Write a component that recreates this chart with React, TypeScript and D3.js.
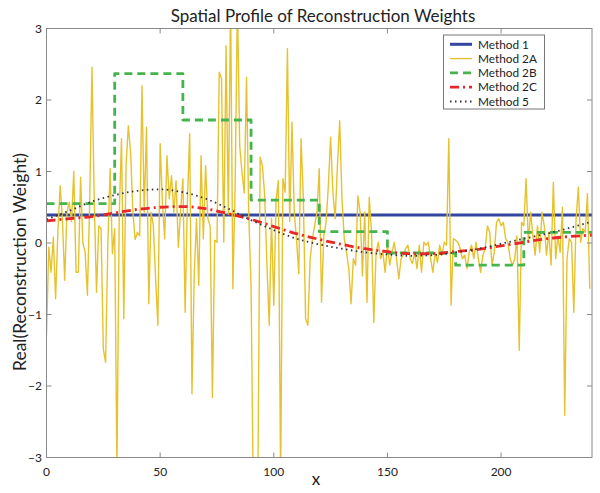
import React, { useEffect, useRef } from 'react';
import * as d3 from 'd3';

// axis ticks
const xTicks = [0, 50, 100, 150, 200];
const yTicks = [-3, -2, -1, 0, 1, 2, 3];

// Method 1: flat weight
const method1X = [0, 240];
const method1 = [0.39, 0.39];

// Method 2A: one value per x = 0..239
const method2A = [
  -1.29, -0.06, -0.41, 0.08, -0.78, 0.15, 0.8, 0.34, -0.52, 0.43,
  0.57, 0.3, 1.0, -0.41, -0.41, 0.92, 0.0, -0.13, -0.73, 0.57,
  2.46, 0.6, -0.69, 0.24, 0.2, -1.48, -1.67, 0.0, 1.04, -0.15,
  0.2, -3.2, 0.4, 1.46, -1.06, 1.08, 1.64, 1.27, 0.43, 0.05,
  0.15, 0.1, 2.2, 0.43, 1.62, -0.85, 0.43, 0.25, -0.5, -1.15,
  1.39, 0.57, 0.06, 1.22, 0.62, 0.94, 0.43, 0.87, -0.06, 0.45,
  0.9, -0.97, 0.6, 1.53, -2.11, -0.45, 0.34, -0.59, 1.22, 0.06,
  1.08, 0.34, 0.24, -2.16, 0.04, 0.01, 2.39, 2.3, 0.01, 2.76,
  0.4, 3.4, -0.64, 0.8, 3.4, 1.36, 0.99, 0.7, 2.32, 0.38,
  -0.6, -3.6, -4.0, -3.4, 1.2, 1.08, 0.66, -0.31, -1.15, 0.34,
  -0.87, 0.6, 0.87, -3.3, 0.9, 0.71, 2.72, 0.3, 1.69, 0.43,
  0.05, -0.43, 1.46, 0.62, -1.06, -1.15, -0.22, 0.06, 0.25, 0.43,
  1.04, -0.83, 0.1, 0.29, 0.8, 1.48, 0.71, 0.34, 1.08, 1.71,
  0.62, 0.06, -0.13, -0.36, -0.85, -0.22, -0.31, 0.66, 0.43, -0.46,
  0.43, -0.83, 0.64, 0.15, -1.11, -0.13, 0.01, -0.22, -0.13, -0.41,
  -0.03, -0.31, -0.13, 0.01, -0.22, -0.5, -0.22, -0.17, -0.08, -0.03,
  -0.22, -0.29, -0.13, -0.36, -0.03, -0.41, 0.01, -0.03, 0.01, -0.22,
  -0.41, -0.13, -0.27, -0.03, -0.17, 0.01, -0.03, 1.46, -0.87, 0.06,
  0.04, 0.01, -0.08, -0.22, -0.17, -0.36, -0.13, -0.03, -0.22, 0.01,
  -0.22, -0.41, -0.17, -0.08, 0.24, 0.15, -0.31, -0.13, 0.29, 0.34,
  0.24, 0.29, 0.06, 0.01, -0.22, -0.31, -0.22, 0.1, -1.5, 0.29,
  0.24, 0.9, 0.01, 0.43, 0.1, -0.17, 0.24, -0.13, 0.43, 0.24,
  -0.17, 0.15, -0.31, 0.85, -0.22, 0.1, -0.13, 0.5, -2.41, -0.22,
  0.06, 0.01, -0.97, 0.34, 0.78, 0.01, 0.2, 0.15, 0.69, -0.64,
];

// Method 2B: piecewise constant
const method2BEdges = [0, 30, 60, 90, 120, 150, 180, 210, 240];
const method2B = [0.55, 2.37, 1.72, 0.6, 0.16, -0.14, -0.31, 0.15];

// Method 2C and Method 5: smooth profiles sampled every 10
const smoothX = [0, 10, 20, 30, 40, 50, 60, 70, 80, 90, 100, 110, 120, 130, 140, 150, 160, 170, 180, 190, 200, 210, 220, 230, 240];
const method2C = [0.31, 0.34, 0.37, 0.42, 0.47, 0.5, 0.51, 0.48, 0.41, 0.33, 0.23, 0.13, 0.05, -0.02, -0.08, -0.12, -0.15, -0.15, -0.12, -0.09, -0.04, 0.01, 0.06, 0.09, 0.11];
const method5 = [0.33, 0.45, 0.58, 0.67, 0.73, 0.75, 0.71, 0.62, 0.48, 0.32, 0.18, 0.06, -0.02, -0.08, -0.13, -0.16, -0.18, -0.17, -0.13, -0.08, -0.01, 0.06, 0.13, 0.21, 0.3];

const legendNames = ['Method 1', 'Method 2A', 'Method 2B', 'Method 2C', 'Method 5'];

const styles = [
  { color: '#3346a0', width: 3, dash: null },
  { color: '#e6c22e', width: 1.4, dash: null },
  { color: '#45b44c', width: 2.8, dash: '8,5' },
  { color: '#e8272b', width: 2.8, dash: '9,4,2,4' },
  { color: '#333333', width: 1.8, dash: '1.5,3.5' },
];

const FONT = 'Lato, "Open Sans", sans-serif';

function App() {
  const svgRef = useRef(null);

  useEffect(() => {
    document.body.style.margin = '0';
    const svg = d3.select(svgRef.current);
    svg.selectAll('*').remove();

    const left = 46.5, right = 592, top = 28.5, bottom = 457.5;
    const x = d3.scaleLinear().domain([0, 240]).range([left, right]);
    const y = d3.scaleLinear().domain([-3, 3]).range([bottom, top]);

    svg.append('rect').attr('width', 600).attr('height', 493).attr('fill', '#fff');

    svg.append('defs').append('clipPath').attr('id', 'plotClip')
      .append('rect').attr('x', left).attr('y', top)
      .attr('width', right - left).attr('height', bottom - top);

    const plot = svg.append('g').attr('clip-path', 'url(#plotClip)');
    const line = d3.line().x(d => x(d[0])).y(d => y(d[1]));

    const series = [
      { pts: method1X.map((v, i) => [v, method1[i]]), curve: d3.curveLinear },
      { pts: method2A.map((v, i) => [i, v]), curve: d3.curveLinear },
      { pts: method2BEdges.map((e, i) => [e, method2B[Math.min(i, method2B.length - 1)]]), curve: d3.curveStepAfter },
      { pts: smoothX.map((v, i) => [v, method2C[i]]), curve: d3.curveMonotoneX },
      { pts: smoothX.map((v, i) => [v, method5[i]]), curve: d3.curveMonotoneX },
    ];

    series.forEach((s, i) => {
      const st = styles[i];
      plot.append('path')
        .datum(s.pts)
        .attr('fill', 'none')
        .attr('stroke', st.color)
        .attr('stroke-width', st.width)
        .attr('stroke-dasharray', st.dash)
        .attr('stroke-linejoin', 'round')
        .attr('d', line.curve(s.curve));
    });

    // frame
    svg.append('rect')
      .attr('x', left).attr('y', top)
      .attr('width', right - left).attr('height', bottom - top)
      .attr('fill', 'none').attr('stroke', '#8a8a8a').attr('stroke-width', 1);

    const tickLen = 5;
    const axes = svg.append('g').attr('stroke', '#8a8a8a').attr('stroke-width', 1);
    xTicks.forEach(t => {
      axes.append('line').attr('x1', x(t)).attr('x2', x(t)).attr('y1', bottom).attr('y2', bottom - tickLen);
      axes.append('line').attr('x1', x(t)).attr('x2', x(t)).attr('y1', top).attr('y2', top + tickLen);
    });
    yTicks.forEach(t => {
      axes.append('line').attr('x1', left).attr('x2', left + tickLen).attr('y1', y(t)).attr('y2', y(t));
      axes.append('line').attr('x1', right).attr('x2', right - tickLen).attr('y1', y(t)).attr('y2', y(t));
    });

    const fmt = d3.format('d');
    svg.append('g').selectAll('text').data(xTicks).join('text')
      .attr('x', d => x(d)).attr('y', 476)
      .attr('text-anchor', 'middle')
      .attr('font-family', FONT).attr('font-size', 12).attr('fill', '#222')
      .text(d => fmt(d));
    svg.append('g').selectAll('text').data(yTicks).join('text')
      .attr('x', 42).attr('y', d => y(d) + 4)
      .attr('text-anchor', 'end')
      .attr('font-family', FONT).attr('font-size', 12).attr('fill', '#222')
      .text(d => fmt(d));

    svg.append('text')
      .attr('x', 323).attr('y', 22)
      .attr('text-anchor', 'middle')
      .attr('font-family', FONT).attr('font-size', 17).attr('fill', '#222')
      .text('Spatial Profile of Reconstruction Weights');

    svg.append('text')
      .attr('x', 316).attr('y', 485)
      .attr('text-anchor', 'middle')
      .attr('font-family', FONT).attr('font-size', 17).attr('fill', '#222')
      .text('x');

    svg.append('text')
      .attr('transform', 'translate(26,262) rotate(-90)')
      .attr('text-anchor', 'middle')
      .attr('font-family', FONT).attr('font-size', 17.5).attr('fill', '#222')
      .text('Real(Reconstruction Weight)');

    // legend
    const lg = svg.append('g');
    lg.append('rect')
      .attr('x', 443.5).attr('y', 35).attr('width', 101).attr('height', 74)
      .attr('fill', '#fff').attr('stroke', '#777').attr('stroke-width', 1);
    legendNames.forEach((name, i) => {
      const st = styles[i];
      const ly = 44.3 + i * 14.3;
      lg.append('line')
        .attr('x1', 450).attr('x2', 472).attr('y1', ly).attr('y2', ly)
        .attr('stroke', st.color).attr('stroke-width', st.width)
        .attr('stroke-dasharray', st.dash);
      lg.append('text')
        .attr('x', 478).attr('y', ly + 4.2)
        .attr('font-family', FONT).attr('font-size', 11.8).attr('fill', '#222')
        .text(name);
    });
  }, []);

  return <svg ref={svgRef} width={600} height={493} style={{ display: 'block' }}></svg>;
}

export default App;
